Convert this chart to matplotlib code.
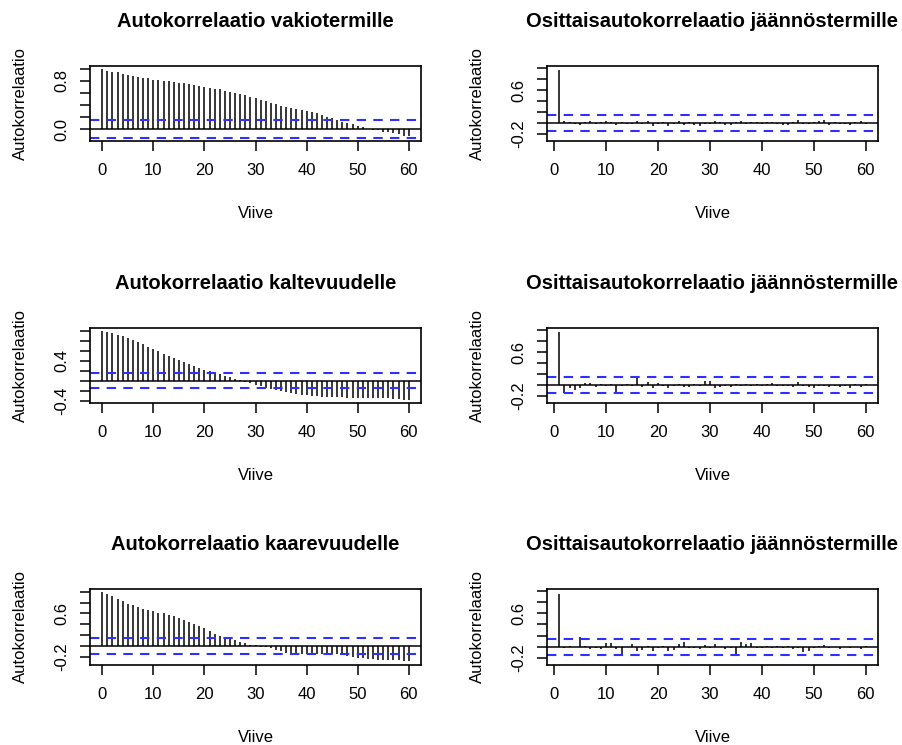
import matplotlib
matplotlib.use("Agg")
import matplotlib.pyplot as plt
import numpy as np

plt.rcParams["font.family"] = ["Liberation Sans", "DejaVu Sans"]

# ACF values, lags 0..60
acf_vakio = [1.00, 0.96, 0.95, 0.94, 0.92, 0.90, 0.88, 0.87, 0.85, 0.84,
             0.82, 0.81, 0.80, 0.79, 0.78, 0.77, 0.76, 0.75, 0.73, 0.72,
             0.70, 0.69, 0.67, 0.66, 0.64, 0.62, 0.60, 0.58, 0.56, 0.53,
             0.51, 0.48, 0.46, 0.43, 0.41, 0.39, 0.37, 0.35, 0.33, 0.31,
             0.30, 0.29, 0.27, 0.24, 0.21, 0.18, 0.15, 0.12, 0.10, 0.08,
             0.05, 0.03, 0.01, -0.01, -0.02, -0.04, -0.05, -0.06, -0.08, -0.11,
             -0.12]
acf_kalte = [1.00, 0.97, 0.95, 0.92, 0.89, 0.85, 0.81, 0.77, 0.73, 0.68,
             0.63, 0.59, 0.54, 0.50, 0.45, 0.41, 0.37, 0.33, 0.29, 0.25,
             0.22, 0.19, 0.16, 0.13, 0.10, 0.07, 0.04, 0.01, -0.02, -0.05,
             -0.08, -0.11, -0.14, -0.17, -0.19, -0.21, -0.23, -0.25, -0.27, -0.28,
             -0.29, -0.30, -0.31, -0.32, -0.32, -0.33, -0.33, -0.33, -0.34, -0.34,
             -0.34, -0.34, -0.35, -0.35, -0.35, -0.35, -0.35, -0.36, -0.36, -0.38,
             -0.38]
acf_kaare = [1.00, 0.95, 0.92, 0.87, 0.82, 0.78, 0.75, 0.72, 0.69, 0.66,
             0.64, 0.61, 0.60, 0.58, 0.55, 0.52, 0.48, 0.45, 0.41, 0.37,
             0.34, 0.28, 0.23, 0.19, 0.16, 0.13, 0.11, 0.08, 0.05, 0.02,
             0.01, -0.01, -0.02, -0.04, -0.07, -0.10, -0.12, -0.13, -0.14, -0.14,
             -0.14, -0.14, -0.14, -0.15, -0.15, -0.15, -0.15, -0.16, -0.18, -0.20,
             -0.22, -0.23, -0.24, -0.24, -0.25, -0.25, -0.25, -0.25, -0.26, -0.27,
             -0.27]

# PACF values of residuals, lags 1..60
pacf_vakio = [0.96, 0.03, 0.02, -0.01, -0.03, 0.01, 0.03, -0.01, 0.02, 0.03,
              0.02, -0.03, 0.01, -0.02, -0.01, 0.04, -0.01, 0.03, -0.06, -0.02,
              0.01, -0.05, -0.01, 0.04, -0.03, 0.01, -0.03, -0.06, -0.02, -0.01,
              0.03, 0.01, -0.03, -0.04, 0.01, 0.03, -0.01, 0.01, 0.02, -0.01,
              0.01, 0.02, -0.02, -0.04, -0.03, 0.01, 0.05, -0.01, -0.02, 0.01,
              0.03, 0.05, -0.04, 0.01, -0.02, -0.01, -0.03, 0.01, 0.03, -0.01]
pacf_kalte = [0.97, -0.14, -0.05, -0.10, -0.06, 0.04, 0.04, -0.03, 0.01, -0.01,
              0.01, -0.15, -0.01, 0.01, -0.02, 0.12, -0.04, 0.05, -0.05, 0.03,
              -0.02, -0.05, -0.01, 0.01, -0.04, -0.03, 0.01, -0.02, 0.08, 0.07,
              -0.06, -0.04, -0.02, -0.04, 0.01, -0.01, 0.01, -0.01, 0.02, -0.01,
              0.02, 0.03, -0.02, -0.01, -0.02, -0.03, 0.06, -0.02, -0.04, -0.05,
              -0.01, -0.02, -0.04, -0.01, -0.04, -0.02, -0.05, 0.01, -0.04, 0.01]
pacf_kaare = [0.95, -0.03, 0.01, -0.01, 0.18, 0.01, -0.04, -0.02, -0.05, 0.07,
              0.06, -0.04, -0.14, -0.01, 0.04, -0.08, -0.06, 0.01, -0.07, -0.03,
              0.02, -0.08, -0.06, 0.05, 0.08, -0.03, -0.03, -0.04, 0.03, -0.02,
              0.04, -0.01, -0.04, -0.02, -0.13, 0.09, 0.05, 0.07, -0.03, -0.02,
              0.01, -0.03, 0.01, -0.02, 0.02, -0.05, -0.02, -0.09, -0.07, -0.03,
              0.01, 0.03, -0.02, -0.01, -0.04, -0.01, -0.02, -0.01, -0.05, 0.01]

conf_limit = 0.146

acf_titles = ["Autokorrelaatio vakiotermille",
              "Autokorrelaatio kaltevuudelle",
              "Autokorrelaatio kaarevuudelle"]
pacf_title = "Osittaisautokorrelaatio jäännöstermille"

xticks = [0, 10, 20, 30, 40, 50, 60]


def draw_panel(ax, lags, values, title, ylim, yticks, ylabels):
    ax.vlines(lags, 0, values, color="black", lw=1.1)
    ax.axhline(0, color="black", lw=1.1)
    for c in (conf_limit, -conf_limit):
        ax.axhline(c, color="#2f2fff", lw=1.5, ls=(0, (4.5, 3.5)))

    ax.set_xlim(lags[0] - 0.04 * (lags[-1] - lags[0]),
                lags[-1] + 0.04 * (lags[-1] - lags[0]))
    ax.set_ylim(*ylim)
    ax.set_xticks(xticks)
    ax.set_yticks(yticks)
    ax.set_yticklabels(ylabels, rotation=90, va="center")
    ax.tick_params(axis="x", length=7, width=1.1, pad=9, labelsize=12)
    ax.tick_params(axis="y", length=7, width=1.1, pad=8, labelsize=12)
    for s in ax.spines.values():
        s.set_linewidth(1.2)

    ax.set_title(title, fontsize=14.5, fontweight="bold", pad=28)
    ax.set_xlabel("Viive", fontsize=12, va="center")
    ax.xaxis.set_label_coords(0.5, -0.96)
    ax.set_ylabel("Autokorrelaatio", fontsize=12, va="center")
    ax.yaxis.set_label_coords(-0.21, 0.5)


fig = plt.figure(figsize=(9.02, 7.45), dpi=100)

rows = [(0.8107, 0.1007), (0.4590, 0.1007), (0.1074, 0.1020)]
left_x, right_x, width = 0.0998, 0.6064, 0.367

acf_sets = [
    (acf_vakio, (-0.196, 1.046), np.arange(0, 1.01, 0.2), {0.0: "0.0", 0.8: "0.8"}),
    (acf_kalte, (-0.45, 1.05), np.arange(-0.4, 1.01, 0.2), {-0.4: "-0.4", 0.4: "0.4"}),
    (acf_kaare, (-0.35, 1.05), np.arange(-0.2, 1.01, 0.2), {-0.2: "-0.2", 0.6: "0.6"}),
]
pacf_sets = [pacf_vakio, pacf_kalte, pacf_kaare]

for i, (bottom, height) in enumerate(rows):
    vals, ylim, yt, lab = acf_sets[i]
    ax = fig.add_axes([left_x, bottom, width, height])
    labels = [lab.get(round(t, 1), "") for t in yt]
    draw_panel(ax, np.arange(len(vals)), vals, acf_titles[i], ylim, yt, labels)

    ax2 = fig.add_axes([right_x, bottom, width, height])
    pv = pacf_sets[i]
    yt2 = np.arange(-0.2, 1.01, 0.2)
    labels2 = [{-0.2: "-0.2", 0.6: "0.6"}.get(round(t, 1), "") for t in yt2]
    draw_panel(ax2, np.arange(1, len(pv) + 1), pv, pacf_title,
               (-0.33, 1.04), yt2, labels2)

fig.savefig("out.png", dpi=100)
